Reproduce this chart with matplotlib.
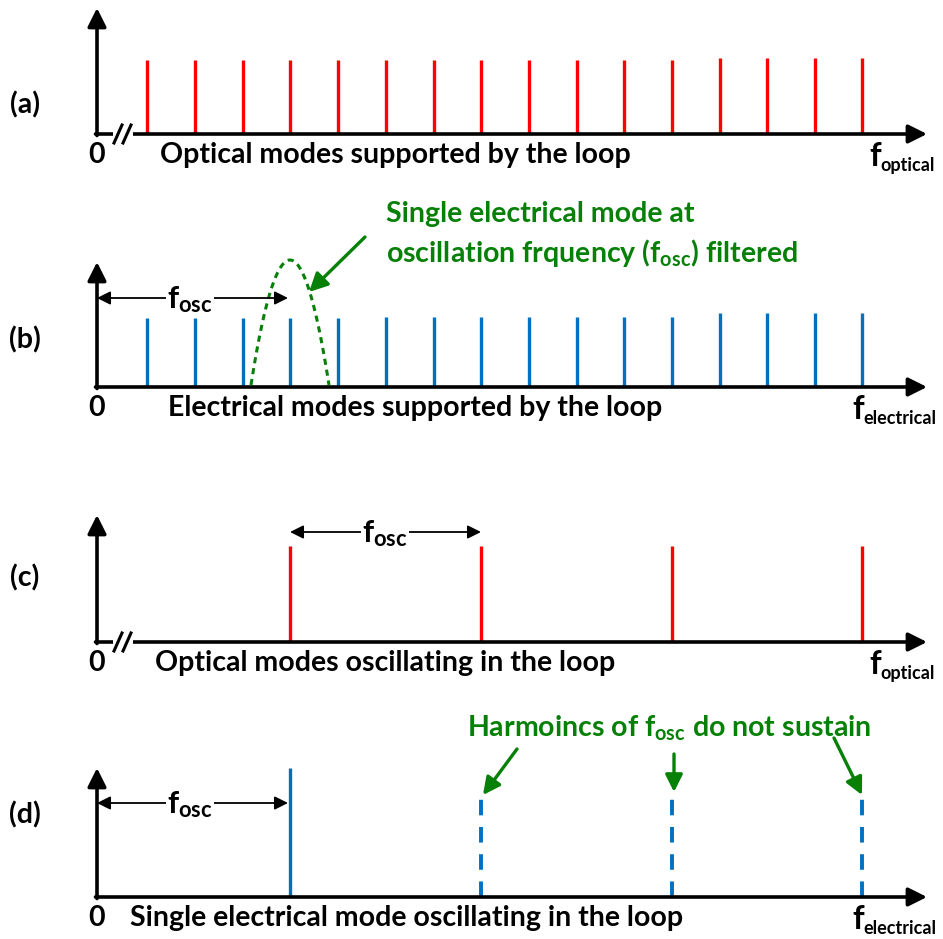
import numpy as np
import matplotlib
matplotlib.use('Agg')
import matplotlib.pyplot as plt

plt.rcParams['font.family'] = ['Lato', 'DejaVu Sans']
plt.rcParams['font.weight'] = 'bold'
plt.rcParams['mathtext.fontset'] = 'custom'
plt.rcParams['mathtext.rm'] = 'Lato:bold'
plt.rcParams['mathtext.it'] = 'Lato:bold'
plt.rcParams['mathtext.bf'] = 'Lato:bold'

# mode positions (pixel-like frequency units) and heights
modes_all = [147, 195, 243, 290, 338, 386, 434, 481, 529, 577, 624, 672, 720, 767, 815, 862]
h_optical = [74, 74, 74, 74, 74, 74, 74, 74, 74, 74, 74, 74, 76, 76, 76, 76]
h_elec = [69, 69, 69, 69, 69, 70, 70, 70, 70, 70, 70, 70, 74, 74, 74, 74]
modes_osc = [290, 481, 672, 862]
h_osc = [96, 96, 96, 96]
h_single = 129
h_harm = [102, 102, 102]

RED = '#FF0000'
BLUE = '#0070C0'
GREEN = '#078007'

fig = plt.figure(figsize=(9.43, 9.39), dpi=100)
ax = fig.add_axes([0, 0, 1, 1])
ax.set_xlim(0, 943)
ax.set_ylim(939, 0)
ax.axis('off')

x0 = 97
fs = 20.5

def axes_frame(base, top, label, ylab, xlab, flab, brk=False):
	# vertical and horizontal axis with arrow heads
	ax.annotate('', xy=(x0, top), xytext=(x0, base + 1.5),
		arrowprops=dict(arrowstyle='-|>', mutation_scale=28, lw=2.6, color='k', shrinkA=0, shrinkB=0))
	ax.annotate('', xy=(927, base), xytext=(x0 - 1.5, base),
		arrowprops=dict(arrowstyle='-|>', mutation_scale=28, lw=2.6, color='k', shrinkA=0, shrinkB=0))
	if brk:
		ax.plot([113, 133], [base, base], color='white', lw=6, solid_capstyle='butt', zorder=3)
		for xx in (118, 127):
			ax.plot([xx - 4, xx + 4], [base + 9, base - 9], color='k', lw=2.2, zorder=4)
	ax.text(25, ylab, label, fontsize=fs, ha='center', va='center')
	ax.text(x0, base + 21, '0', fontsize=fs, ha='center', va='center')
	ax.text(xlab, base + 21, flab[0], fontsize=fs, ha='left', va='center')
	# axis frequency label: big f with small subscript
	ax.text(flab[1], base + 32, 'f', fontsize=fs + 3, ha='left', va='baseline')
	ax.text(flab[1] + 11, base + 37, flab[2], fontsize=13, ha='left', va='baseline')

def fosc_arrow(xa, xb, y, xt):
	ax.annotate('', xy=(xb, y), xytext=(xa, y),
		arrowprops=dict(arrowstyle='<|-|>', mutation_scale=20, lw=1.3, color='k', shrinkA=0, shrinkB=0))
	ax.text(xt, y + 2, r'$f_{osc}$', fontsize=fs + 2, ha='center', va='center',
		bbox=dict(facecolor='white', edgecolor='none', pad=1))

# (a)
base_a = 134
axes_frame(base_a, 8, '(a)', 105, 160, ('Optical modes supported by the loop', 869, 'optical'), brk=True)
ax.vlines(modes_all, base_a, [base_a - h for h in h_optical], color=RED, lw=2.4)

# (b)
base_b = 387
axes_frame(base_b, 262, '(b)', 340, 168, ('Electrical modes supported by the loop', 852, 'electrical'))
ax.vlines(modes_all, base_b, [base_b - h for h in h_elec], color=BLUE, lw=2.4)
fosc_arrow(x0, 288, 298, 190)
xc = np.linspace(-1, 1, 60)
ax.plot(290 + 39 * xc, base_b - 2 - 125 * (1 - xc ** 2), color=GREEN, lw=2.2, ls=(0, (2, 1.6)))
ax.text(386, 214, 'Single electrical mode at', fontsize=fs, color=GREEN, ha='left', va='center')
ax.text(386, 253, r'oscillation frquency ($f_{osc}$) filtered', fontsize=fs, color=GREEN, ha='left', va='center')
ax.annotate('', xy=(309, 292), xytext=(365, 237),
	arrowprops=dict(arrowstyle='-|>', mutation_scale=28, lw=2.4, color=GREEN, shrinkA=0, shrinkB=0))

# (c)
base_c = 642
axes_frame(base_c, 515, '(c)', 578, 155, ('Optical modes oscillating in the loop', 869, 'optical'), brk=True)
ax.vlines(modes_osc, base_c, [base_c - h for h in h_osc], color=RED, lw=2.4)
fosc_arrow(290, 481, 532, 385)

# (d)
base_d = 897
axes_frame(base_d, 768, '(d)', 815, 130, ('Single electrical mode oscillating in the loop', 852, 'electrical'))
ax.vlines(modes_osc[0], base_d, base_d - h_single, color=BLUE, lw=2.4)
ax.vlines(modes_osc[1:], base_d, [base_d - h for h in h_harm], color=BLUE, lw=2.8, linestyles=(0, (4, 3)))
fosc_arrow(x0, 288, 803, 190)
ax.text(669, 728, r'Harmoincs of $f_{osc}$ do not sustain', fontsize=fs, color=GREEN, ha='center', va='center')
for (xa, ya), (xb, yb) in [((517, 749), (483, 795)), ((674, 754), (674, 792)), ((834, 738), (862, 795))]:
	ax.annotate('', xy=(xb, yb), xytext=(xa, ya),
		arrowprops=dict(arrowstyle='-|>', mutation_scale=26, lw=2.4, color=GREEN, shrinkA=0, shrinkB=0))

plt.savefig('out.png', dpi=100)
